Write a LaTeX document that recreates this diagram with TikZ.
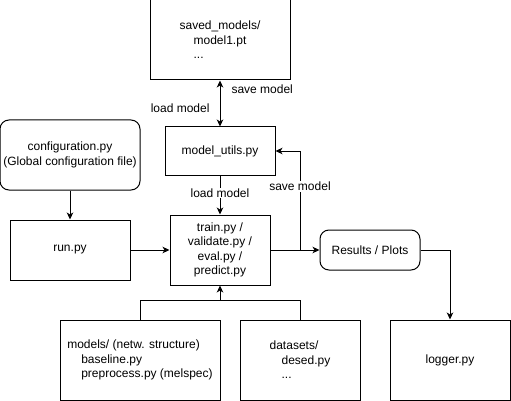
\documentclass[tikz,border=0pt]{standalone}
\usepackage{fontspec}
\setmainfont{Liberation Sans}
\usetikzlibrary{arrows.meta, positioning}

\begin{document}
\begin{tikzpicture}[x=1pt,y=-1pt,line width=1pt,
    >={Stealth[length=7pt,width=6.5pt,inset=2pt]},
    every node/.style={font=\fontsize{12}{14.5}\selectfont},
    box/.style={draw, inner sep=0pt, align=center},
    rbox/.style={box, rounded corners=9pt},
    lbl/.style={inner sep=1pt}]
      \useasboundingbox (0,0) rectangle (511,401);
      \node[box, minimum width=140pt, minimum height=80pt, align=left] (saved) at (220,40)
        {saved\_models/\\\hspace*{14pt}model1.pt\\\hspace*{14pt}...};
      \node[rbox, minimum width=140pt, minimum height=70pt] (config) at (70,155)
        {configuration.py\\(Global configuration file)};
      \node[box, minimum width=110pt, minimum height=48pt] (utils) at (220,151) {model\_utils.py};
      \node[box, minimum width=120pt, minimum height=60pt] (run) at (70,250) {run.py};
      \node[box, minimum width=100pt, minimum height=70pt] (train) at (220,250)
        {train.py /\\validate.py /\\eval.py /\\predict.py};
      \node[rbox, minimum width=100pt, minimum height=40pt] (results) at (370,250) {Results / Plots};
      \node[box, minimum width=160pt, minimum height=80pt, align=left] (models) at (140,360)
        {models/ (netw. structure)\\\hspace*{14pt}baseline.py\\\hspace*{14pt}preprocess.py (melspec)};
      \node[box, minimum width=120pt, minimum height=80pt, align=left] (data) at (300,360)
        {datasets/\\\hspace*{12pt}desed.py\\\hspace*{12pt}...};
      \node[box, minimum width=120pt, minimum height=80pt] (logger) at (450,360) {logger.py};
      \coordinate (split) at (300,250);
      \coordinate (join) at (220,300);
        \draw[<->] (saved) -- node[lbl, right=10pt, pos=0.19] {save model}
                              node[lbl, left=9pt, pos=0.6] {load model} (utils);
        \draw[->] (config) -- (run);
        \draw[->] (run) -- (train);
        \draw[->] (utils) -- node[lbl, fill=white, pos=0.45] {load model} (train);
        \draw[->] (train) -- (results);
        \draw[->] (split) |- node[lbl, fill=white, pos=0.32] {save model} (utils);
        \draw[->] (results) -| (logger);
        \draw (models) |- (join);
        \draw (data) |- (join);
        \draw[->] (join) -- (train);
    \end{tikzpicture}
\end{document}
